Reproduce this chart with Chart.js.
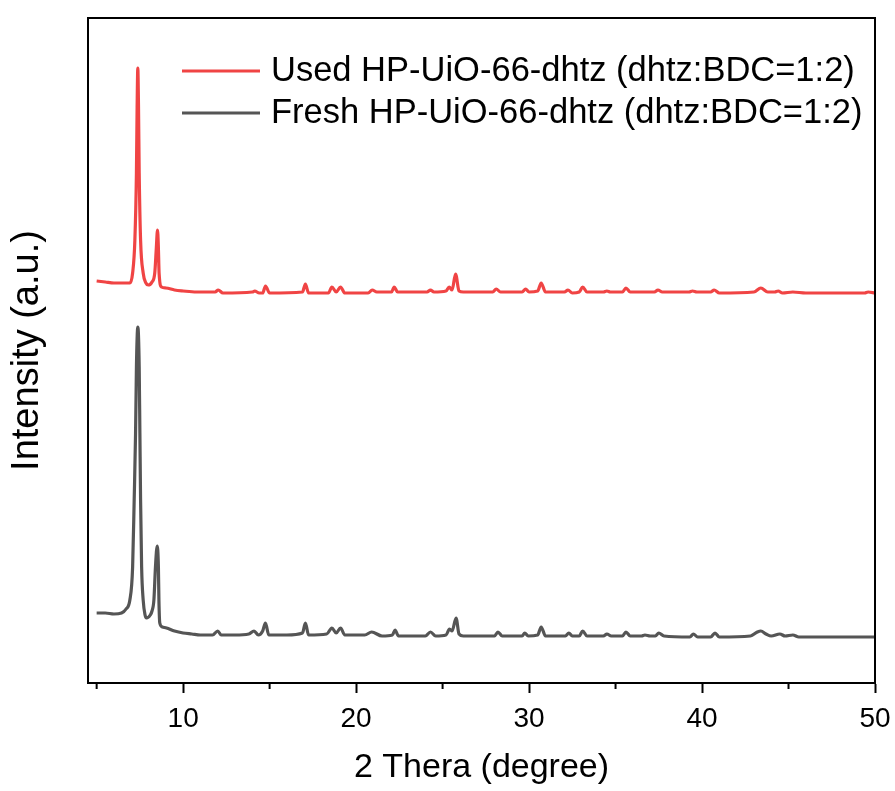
<!DOCTYPE html>
<html>
<head>
<meta charset="utf-8">
<script src="https://cdn.jsdelivr.net/npm/chart.js@4.4.1/dist/chart.umd.min.js"></script>
<style>
  html, body { margin: 0; padding: 0; background: #fff; }
  #wrap { width: 895px; height: 791px; }
</style>
</head>
<body>
<div id="wrap"><canvas id="xrdChart" width="895" height="791"></canvas></div>
<script>
// 2θ positions and intensities (a.u., used trace is offset upward)
const usedX = [5.0, 5.5, 6.0, 6.92, 7.08, 7.21, 7.3, 7.34, 7.38, 7.42, 7.46, 7.54, 7.69, 7.85, 7.98,
    8.2, 8.36, 8.45, 8.52, 8.57, 8.61, 8.75, 9.0, 9.5, 10.0, 10.77, 11.5, 11.85, 12.03, 12.3, 14.0, 14.14, 14.4,
    14.6, 14.76, 15.0, 16.9, 17.07, 17.25, 18.4, 18.6, 18.85, 19.1, 19.35, 20.7, 20.93, 21.2, 22.05, 22.2, 22.4,
    24.1, 24.3, 24.5, 25.2, 25.38, 25.55, 25.75, 25.95, 26.2, 27.9, 28.1, 28.35, 29.6, 29.8, 30.0, 30.5, 30.7,
    30.95, 32.05, 32.25, 32.5, 32.9, 33.1, 33.35, 34.3, 34.5, 34.7, 35.4, 35.6, 35.85, 36.65, 37.25, 37.45,
    37.7, 39.25, 39.45, 39.7, 40.5, 40.7, 41.0, 43.0, 43.4, 43.8, 44.2, 44.4, 44.65, 45.25, 46.0, 48.0, 49.4,
    49.6, 50.0];
const usedY = [402, 401, 400, 400, 410, 443, 510, 576, 615, 576, 510, 443, 410, 400, 398,
    401, 410, 435, 453, 435, 410, 396, 395, 393, 392, 391, 391, 391, 393, 390, 391, 392, 390,
    390, 397, 390, 391, 399, 390, 390, 396, 391, 396, 390, 390, 393, 391, 391, 396, 391,
    391, 393, 391, 392, 396, 393, 409, 392, 391, 391, 394, 391, 391, 394, 391, 392, 400,
    391, 391, 393, 390, 391, 396, 391, 391, 392, 391, 391, 395, 391, 391, 391, 393,
    391, 391, 392, 391, 391, 393, 390, 391, 395, 391, 391, 392, 390, 391, 390, 390, 390,
    391, 390];

const freshX = [5.0, 5.5, 6.0, 6.44, 6.7, 6.92, 7.08, 7.17, 7.25, 7.3, 7.38, 7.46, 7.5, 7.54, 7.6, 7.69,
    7.8, 7.88, 8.1, 8.2, 8.31, 8.4, 8.5, 8.57, 8.6, 8.65, 8.8, 9.04, 9.5, 10.0, 10.5, 11.0, 11.7, 12.0,
    12.2, 13.0, 13.8, 14.1, 14.35, 14.6, 14.76, 14.95, 16.0, 16.9, 17.07, 17.25, 18.3, 18.6, 18.85, 19.1,
    19.35, 20.5, 20.9, 21.5, 22.1, 22.25, 22.45, 24.0, 24.3, 24.6, 25.2, 25.4, 25.55, 25.78, 25.95, 26.2,
    28.0, 28.2, 28.45, 29.6, 29.75, 29.95, 30.5, 30.7, 30.95, 32.1, 32.3, 32.5, 32.9, 33.1, 33.35, 34.3,
    34.5, 34.75, 35.4, 35.6, 35.85, 36.5, 36.7, 37.0, 37.3, 37.5, 37.8, 39.3, 39.5, 39.75, 40.5, 40.75,
    41.0, 42.8, 43.2, 43.4, 43.7, 44.0, 44.5, 44.8, 45.25, 45.6, 47.0, 48.0, 49.0, 50.0];
const freshY = [70, 70, 69, 70, 74, 83, 116, 183, 250, 316, 356, 316, 250, 183, 116, 83,
    68, 65, 68, 72, 83, 116, 137, 116, 83, 60, 56, 55, 52, 50, 49, 48, 48, 52,
    48, 48, 49, 52, 48, 52, 60, 48, 48, 50, 60, 48, 49, 55, 50, 55,
    48, 48, 51, 47, 48, 53, 47, 47, 51, 47, 48, 54, 52, 65, 49, 47,
    47, 51, 47, 47, 50, 47, 48, 56, 47, 47, 50, 47, 47, 52, 47, 47,
    49, 47, 47, 51, 47, 47, 48, 47, 47, 50, 47, 46, 49, 46, 46, 50,
    46, 47, 51, 52, 49, 47, 49, 47, 48, 46, 46, 46, 46, 46];

const seriesLabels = ['Used HP-UiO-66-dhtz (dhtz:BDC=1:2)', 'Fresh HP-UiO-66-dhtz (dhtz:BDC=1:2)'];
const majorTicks = [10, 20, 30, 40, 50];
const minorTicks = [5, 15, 25, 35, 45];

const FONT = '"Liberation Sans", Arial, sans-serif';

function toPoints(xs, ys) {
    return xs.map((v, i) => ({ x: v, y: ys[i] }));
}

// box frame, minor ticks and the in-plot legend
const framePlugin = {
    id: 'frame',
    afterDraw(chart) {
        const ctx = chart.ctx;
        const a = chart.chartArea;
        const xs = chart.scales.x;
        ctx.save();
        ctx.strokeStyle = '#000';
        ctx.lineWidth = 2;
        ctx.strokeRect(a.left, a.top, a.right - a.left, a.bottom - a.top);

        ctx.beginPath();
        minorTicks.forEach(v => {
            const px = xs.getPixelForValue(v);
            ctx.moveTo(px, a.bottom);
            ctx.lineTo(px, a.bottom + 6);
        });
        ctx.stroke();

        ctx.font = '34.5px ' + FONT;
        ctx.textBaseline = 'middle';
        ctx.fillStyle = '#000';
        chart.data.datasets.forEach((ds, i) => {
            const y = a.top + 53 + i * 42;
            ctx.strokeStyle = ds.borderColor;
            ctx.lineWidth = 3;
            ctx.beginPath();
            ctx.moveTo(a.left + 94, y);
            ctx.lineTo(a.left + 172, y);
            ctx.stroke();
            ctx.fillText(ds.label, a.left + 183, y);
        });
        ctx.restore();
    }
};

document.addEventListener('DOMContentLoaded', function() {
    const ctx = document.getElementById('xrdChart').getContext('2d');
    new Chart(ctx, {
        type: 'line',
        data: {
            datasets: [{
                label: seriesLabels[0],
                data: toPoints(usedX, usedY),
                borderColor: '#F04444',
                borderWidth: 3.2,
                pointRadius: 0,
                cubicInterpolationMode: 'monotone'
            }, {
                label: seriesLabels[1],
                data: toPoints(freshX, freshY),
                borderColor: '#555555',
                borderWidth: 3.2,
                pointRadius: 0,
                cubicInterpolationMode: 'monotone'
            }]
        },
        options: {
            responsive: false,
            animation: false,
            layout: { padding: { top: 18, right: 20, left: 0, bottom: 0 } },
            plugins: {
                legend: { display: false },
                tooltip: { enabled: false }
            },
            scales: {
                x: {
                    type: 'linear',
                    min: 4.5,
                    max: 50,
                    afterFit: s => { s.height = 108; s.paddingLeft = 0; s.paddingRight = 0; },
                    afterBuildTicks: s => { s.ticks = majorTicks.map(v => ({ value: v })); },
                    grid: { drawOnChartArea: false, drawTicks: true, tickLength: 10, tickColor: '#000', tickWidth: 2 },
                    border: { color: '#000', width: 2 },
                    ticks: { color: '#000', padding: 9, maxRotation: 0, font: { size: 28, family: FONT } },
                    title: { display: true, text: '2 Thera (degree)', color: '#000', padding: { top: 0, bottom: 3 },
                        font: { size: 34, family: FONT } }
                },
                y: {
                    type: 'linear',
                    min: 0,
                    max: 665,
                    afterFit: s => { s.width = 88; },
                    grid: { display: false },
                    border: { color: '#000', width: 2 },
                    ticks: { display: false },
                    title: { display: true, text: 'Intensity (a.u.)', color: '#000', padding: { top: 5, bottom: 0 },
                        font: { size: 38, family: FONT } }
                }
            }
        },
        plugins: [framePlugin]
    });
});
</script>
</body>
</html>
